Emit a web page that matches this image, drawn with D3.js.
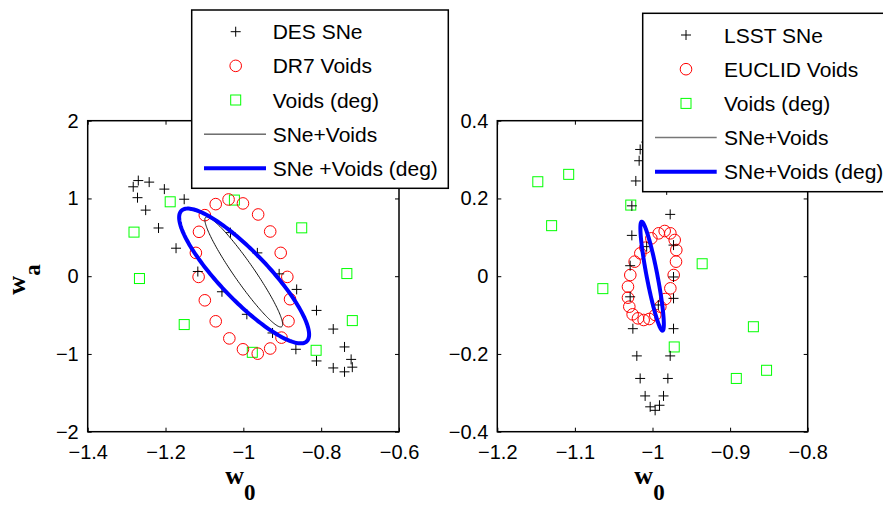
<!DOCTYPE html>
<html>
<head>
<meta charset="utf-8">
<script src="https://cdn.jsdelivr.net/npm/d3@7"></script>
<style>
  body { margin: 0; background: #fff; }
  svg { display: block; }
  .tick text { font-family: "Liberation Sans", Arial, sans-serif; font-size: 20px; fill: #000; }
  .tick line { stroke: #000; stroke-width: 1; }
  .legend text { font-family: "Liberation Sans", Arial, sans-serif; font-size: 21px; fill: #000; }
  .axis-label { font-family: "Liberation Serif", "Times New Roman", serif; font-weight: bold; fill: #000; }
</style>
</head>
<body>
<svg id="chart" width="883" height="508"></svg>
<script>
// --- data: [w0, wa] ---

// left panel (DES / DR7)
const desSNe = [
  [-1.283, 1.15], [-1.270, 1.23], [-1.242, 1.21], [-1.272, 1.01], [-1.203, 1.12],
  [-1.152, 0.99], [-1.251, 0.85], [-1.218, 0.62], [-1.173, 0.36], [-1.117, 0.06],
  [-1.055, -0.20], [-1.033, 0.56], [-0.964, 0.30], [-0.908, 0.03], [-0.863, -0.17],
  [-0.991, -0.49], [-0.925, -0.73], [-0.865, -0.94], [-0.812, -0.44], [-0.769, -0.68],
  [-0.740, -0.91], [-0.723, -1.07], [-0.812, -1.09], [-0.769, -1.18], [-0.740, -1.23],
  [-0.720, -1.17]
];
const dr7Voids = [
  [-1.099, 0.785], [-1.071, 0.927], [-1.038, 0.987], [-1.001, 0.936], [-0.962, 0.794],
  [-0.931, 0.575], [-0.904, 0.300], [-0.887, -0.009], [-0.880, -0.296], [-0.884, -0.579],
  [-0.902, -0.790], [-0.931, -0.930], [-0.963, -0.996], [-1.001, -0.940], [-1.036, -0.800],
  [-1.071, -0.580], [-1.099, -0.310], [-1.115, -0.009], [-1.122, 0.300], [-1.114, 0.571]
];
const voidsDegLeft = [
  [-1.188, 0.957], [-1.023, 0.979], [-1.281, 0.567], [-1.267, -0.03], [-0.850, 0.622],
  [-0.734, 0.034], [-0.720, -0.571], [-1.152, -0.622], [-0.977, -0.979], [-0.813, -0.953]
];
// ellipses: [centre w0, centre wa, semi-axis 1 (dw0, dwa), semi-axis 2 (dw0, dwa)]
const sneVoidsLeft = [-0.999, 0.054, 0.0977, -0.7035, 0.0211, 0.0734];
const sneVoidsDegLeft = [-0.998, 0.003, 0.161, -0.840, 0.0444, 0.214];

// right panel (LSST / EUCLID)
const lsstSNe = [
  [-1.0159, 0.326], [-1.0172, 0.297], [-1.0215, 0.245], [-1.0266, 0.181], [-1.0266, 0.105],
  [-1.0288, 0.027], [-1.0288, -0.053], [-1.0253, -0.135], [-1.0202, -0.205], [-1.0159, -0.263],
  [-1.0095, -0.308], [-1.003, -0.336], [-0.9966, -0.345], [-0.991, -0.332], [-0.9858, -0.308],
  [-0.9802, -0.263], [-0.9772, -0.205], [-0.9729, -0.135], [-0.9729, -0.057], [-0.9729, -0.002],
  [-0.9729, 0.080], [-0.9772, 0.159], [-0.9817, 0.222], [-0.986, 0.29], [-0.995, 0.35],
  [-1.008, 0.345], [-1.0075, 0.076], [-0.9925, -0.074]
];
const euclidVoids = [
  [-1.0092, 0.0734], [-1.0015, 0.0974], [-0.9920, 0.1103], [-0.9843, 0.1163], [-0.9770, 0.1103],
  [-0.9714, 0.0931], [-0.9693, 0.0674], [-0.9697, 0.0374], [-0.9727, 0.0031], [-0.9770, -0.0312],
  [-0.9835, -0.0587], [-0.9899, -0.0784], [-0.9964, -0.0998], [-1.0041, -0.1101], [-1.0114, -0.1127],
  [-1.0187, -0.1084], [-1.0256, -0.0981], [-1.0299, -0.0784], [-1.0316, -0.0552], [-1.0316, -0.0269],
  [-1.0286, 0.0031], [-1.0230, 0.0374], [-1.0157, 0.0588]
];
const voidsDegRight = [
  [-1.1478, 0.243], [-1.108, 0.262], [-1.130, 0.130], [-1.028, 0.183], [-1.064, -0.032],
  [-0.936, 0.032], [-0.972, -0.182], [-0.870, -0.130], [-0.892, -0.263], [-0.853, -0.242]
];
// the thin contour sits under the thick one in this panel
const sneVoidsRight = [-1.0005, 0.0, 0.0133, -0.138, 0.0067, 0.0028];
const sneVoidsDegRight = [-1.0005, 0.0, 0.0135, -0.140, 0.0068, 0.0028];

// axes
const leftXTicks = [-1.4, -1.2, -1, -0.8, -0.6];
const leftYTicks = [-2, -1, 0, 1, 2];
const rightXTicks = [-1.2, -1.1, -1, -0.9, -0.8];
const rightYTicks = [-0.4, -0.2, 0, 0.2, 0.4];

const legendLeftLabels = ["DES SNe", "DR7 Voids", "Voids (deg)", "SNe+Voids", "SNe +Voids (deg)"];
const legendRightLabels = ["LSST SNe", "EUCLID Voids", "Voids (deg)", "SNe+Voids", "SNe+Voids (deg)"];

// --- drawing ---
const svg = d3.select("#chart");
const fmt = d => (d < 0 ? "\u2212" : "") + String(+Math.abs(d).toFixed(2));

const crossPath = "M-5,0H5M0,-5V5";

function drawPanel(opt) {
  const x = d3.scaleLinear().domain(opt.xDomain).range([opt.left, opt.right]);
  const y = d3.scaleLinear().domain(opt.yDomain).range([opt.bottom, opt.top]);
  const g = svg.append("g");

  // ticks inside the box on all four sides
  g.append("g").attr("transform", `translate(0,${opt.bottom})`)
    .call(d3.axisBottom(x).tickValues(opt.xTicks).tickFormat(fmt).tickSizeInner(-4).tickSizeOuter(0).tickPadding(13));
  g.append("g").attr("transform", `translate(0,${opt.top})`)
    .call(d3.axisTop(x).tickValues(opt.xTicks).tickFormat("").tickSizeInner(-4).tickSizeOuter(0));
  g.append("g").attr("transform", `translate(${opt.left},0)`)
    .call(d3.axisLeft(y).tickValues(opt.yTicks).tickFormat(fmt).tickSizeInner(-4).tickSizeOuter(0).tickPadding(9));
  g.append("g").attr("transform", `translate(${opt.right},0)`)
    .call(d3.axisRight(y).tickValues(opt.yTicks).tickFormat("").tickSizeInner(-4).tickSizeOuter(0));
  g.selectAll(".domain").remove();

  // ellipses
  const line = d3.line().x(p => x(p[0])).y(p => y(p[1])).curve(d3.curveLinearClosed);
  const ellipse = e => d3.range(0, 2 * Math.PI, Math.PI / 90)
    .map(t => [e[0] + e[2] * Math.cos(t) + e[4] * Math.sin(t), e[1] + e[3] * Math.cos(t) + e[5] * Math.sin(t)]);

  g.selectAll(".sq").data(opt.squares).join("rect")
    .attr("x", d => x(d[0]) - 5).attr("y", d => y(d[1]) - 5)
    .attr("width", 10).attr("height", 10)
    .attr("fill", "none").attr("stroke", "#00ff00").attr("stroke-width", 1);

  g.selectAll(".ci").data(opt.circles).join("circle")
    .attr("cx", d => x(d[0])).attr("cy", d => y(d[1])).attr("r", 5.8)
    .attr("fill", "none").attr("stroke", "#ff0000").attr("stroke-width", 1);

  g.selectAll(".cr").data(opt.crosses).join("path")
    .attr("d", crossPath)
    .attr("transform", d => `translate(${x(d[0])},${y(d[1])})`)
    .attr("stroke", "#000").attr("stroke-width", 1);

  g.append("path").attr("d", line(ellipse(opt.thin)))
    .attr("fill", "none").attr("stroke", opt.thinColor).attr("stroke-width", 1);
  g.append("path").attr("d", line(ellipse(opt.thick)))
    .attr("fill", "none").attr("stroke", "#0000ff").attr("stroke-width", 4);

  // box
  g.append("rect")
    .attr("x", opt.left).attr("y", opt.top)
    .attr("width", opt.right - opt.left).attr("height", opt.bottom - opt.top)
    .attr("fill", "none").attr("stroke", "#000").attr("stroke-width", 1.5);

  // x label w0
  const xl = g.append("text").attr("class", "axis-label")
    .attr("x", (opt.left + opt.right) / 2 - 3).attr("y", 484)
    .attr("text-anchor", "middle");
  xl.append("tspan").attr("font-size", 26).text("w");
  xl.append("tspan").attr("font-size", 23).attr("dy", 16).text("0");

  return {x, y};
}

function drawLegend(opt) {
  const g = svg.append("g").attr("class", "legend");
  g.append("rect")
    .attr("x", opt.x).attr("y", opt.y).attr("width", opt.w).attr("height", opt.h)
    .attr("fill", "#fff").attr("stroke", "#000").attr("stroke-width", 1.5);

  const rows = opt.labels.map((label, i) => ({label, i, cy: opt.row0 + opt.step * i}));
  const row = g.selectAll(".row").data(rows).join("g");
  row.append("text")
    .attr("x", opt.textX).attr("y", d => d.cy + 7.5)
    .text(d => d.label);

  row.filter(d => d.i === 0).append("path")
    .attr("d", crossPath).attr("transform", d => `translate(${opt.symX},${d.cy})`)
    .attr("stroke", "#000").attr("stroke-width", 1);
  row.filter(d => d.i === 1).append("circle")
    .attr("cx", opt.symX).attr("cy", d => d.cy).attr("r", 5.8)
    .attr("fill", "none").attr("stroke", "#ff0000").attr("stroke-width", 1);
  row.filter(d => d.i === 2).append("rect")
    .attr("x", opt.symX - 5).attr("y", d => d.cy - 5).attr("width", 10).attr("height", 10)
    .attr("fill", "none").attr("stroke", "#00ff00").attr("stroke-width", 1);
  row.filter(d => d.i === 3).append("line")
    .attr("x1", opt.lineX0).attr("x2", opt.lineX1).attr("y1", d => d.cy).attr("y2", d => d.cy)
    .attr("stroke", opt.thinColor).attr("stroke-width", opt.thinWidth);
  row.filter(d => d.i === 4).append("line")
    .attr("x1", opt.lineX0).attr("x2", opt.lineX1).attr("y1", d => d.cy).attr("y2", d => d.cy)
    .attr("stroke", "#0000ff").attr("stroke-width", 4);
}

drawPanel({
  xDomain: [-1.4, -0.6], yDomain: [-2, 2],
  left: 87.7, right: 399, top: 120.7, bottom: 431.7,
  xTicks: leftXTicks, yTicks: leftYTicks,
  crosses: desSNe, circles: dr7Voids, squares: voidsDegLeft,
  thin: sneVoidsLeft, thick: sneVoidsDegLeft, thinColor: "#111"
});

drawPanel({
  xDomain: [-1.2, -0.8], yDomain: [-0.4, 0.4],
  left: 497.3, right: 807.7, top: 120.7, bottom: 431.7,
  xTicks: rightXTicks, yTicks: rightYTicks,
  crosses: lsstSNe, circles: euclidVoids, squares: voidsDegRight,
  thin: sneVoidsRight, thick: sneVoidsDegRight, thinColor: "#777"
});

// y label wa (left panel only)
const yl = svg.append("text").attr("class", "axis-label")
  .attr("transform", "translate(25,279.5) rotate(-90)")
  .attr("text-anchor", "middle");
yl.append("tspan").attr("font-size", 26).text("w");
yl.append("tspan").attr("font-size", 23).attr("dy", 15).text("a");

drawLegend({
  x: 191.7, y: 10, w: 256.6, h: 178.3,
  row0: 31.7, step: 34.15, symX: 235.7, lineX0: 204, lineX1: 266, textX: 272.7,
  labels: legendLeftLabels, thinColor: "#222", thinWidth: 1
});

drawLegend({
  x: 642.7, y: 13.3, w: 250, h: 178.4,
  row0: 35, step: 34.2, symX: 686, lineX0: 655, lineX1: 716.7, textX: 724,
  labels: legendRightLabels, thinColor: "#777", thinWidth: 1.5
});
</script>
</body>
</html>
